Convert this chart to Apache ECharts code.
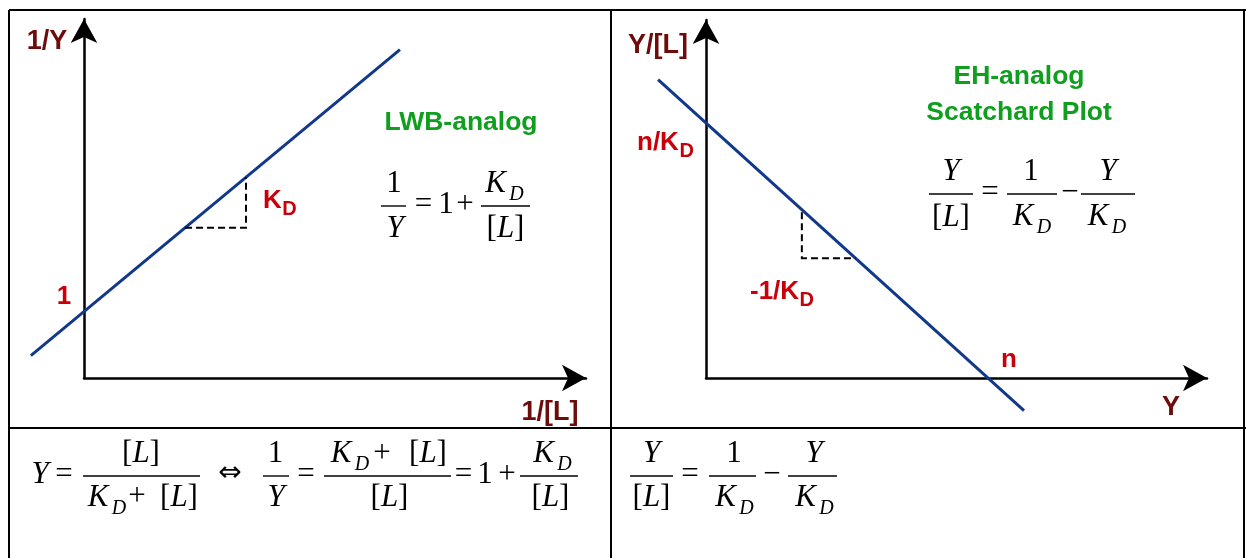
<!DOCTYPE html>
<html>
<head>
<meta charset="utf-8">
<script src="https://cdn.jsdelivr.net/npm/echarts@6/dist/echarts.min.js"></script>
<style>
  html, body { margin: 0; padding: 0; background: #fff; }
  #chart { width: 1246px; height: 558px; }
</style>
</head>
<body>
<div id="chart"></div>
<script>
// Lineweaver-Burk analog: 1/Y = 1 + K_D/[L]  (intercept 1, slope K_D)
const lwbLine = [[-0.663, 0.337], [3.94, 4.94]];
const lwbStep = [[1.26, 2.26], [2.02, 2.26], [2.02, 3.02]];
const lwbAxisMax = { x: 6.26, y: 5.40 };

// Scatchard (Eadie-Hofstee analog): Y/[L] = n/K_D - Y/K_D  (n = 1, K_D = 1)
const scatLine = [[-0.17, 1.17], [1.128, -0.128]];
const scatStep = [[0.34, 0.65], [0.34, 0.47], [0.53, 0.47]];
const scatAxisMax = { x: 1.777, y: 1.404 };

// Axis captions and annotations
const lwbTitle = 'LWB-analog';
const scatTitle = ['EH-analog', 'Scatchard Plot'];
const axisNames = { lwbY: '1/Y', lwbX: '1/[L]', scatY: 'Y/[L]', scatX: 'Y' };

const MAROON = '#6e0b0b';
const RED = '#c8000a';
const GREEN = '#0f9e1e';
const BLUE = '#12388a';
const SANS = "'Liberation Sans', Arial, sans-serif";
const SERIF = "'Liberation Serif', 'Times New Roman', 'DejaVu Serif', serif";
const F = 31, FS = 20;

const chart = echarts.init(document.getElementById('chart'), null, { renderer: 'canvas' });

function axisPair(gridIndex, max) {
  const line = {
    show: true,
    onZero: false,
    symbol: ['none', 'arrow'],
    symbolSize: [20, 24],
    lineStyle: { color: '#000', width: 2.5 }
  };
  const common = {
    type: 'value', gridIndex, min: 0,
    axisLine: line, axisTick: { show: false }, axisLabel: { show: false },
    splitLine: { show: false }
  };
  return [
    Object.assign({}, common, { max: max.x }),
    Object.assign({}, common, { max: max.y })
  ];
}

const lwbAxes = axisPair(0, lwbAxisMax);
const scatAxes = axisPair(1, scatAxisMax);

// ---------- text helpers ----------
function txt(x, y, s, font, fill, align) {
  return {
    type: 'text', x, y, silent: true,
    style: { text: s, font, fill: fill || '#000', align: align || 'center', verticalAlign: 'middle' }
  };
}
const rFont = `${F}px ${SERIF}`;
const iFont = `italic ${F}px ${SERIF}`;
const sFont = `italic ${FS}px ${SERIF}`;
const R = (x, y, s) => txt(x, y, s, rFont);
const I = (x, y, s) => txt(x, y, s, iFont);
function L(x, y) {
  return {
    type: 'text', x, y, silent: true,
    style: {
      text: '{r|[}{i|L}{r|]}', fill: '#000', align: 'center', verticalAlign: 'middle',
      rich: {
        r: { fontSize: F, fontFamily: SERIF },
        i: { fontSize: F, fontFamily: SERIF, fontStyle: 'italic' }
      }
    }
  };
}
function KD(x, y) {
  return [I(x, y, 'K'), txt(x + 21, y + 11, 'D', sFont)];
}
function bar(x1, x2, y) {
  return { type: 'line', silent: true, shape: { x1, y1: y, x2, y2: y }, style: { stroke: '#000', lineWidth: 1.4 } };
}

// label with subscript D (bold sans)
const measureCtx = document.createElement('canvas').getContext('2d');
function subLabel(left, y, main, sub, size, subSize, color) {
  const font = `bold ${size}px ${SANS}`;
  measureCtx.font = font;
  const w = measureCtx.measureText(main).width;
  return [
    txt(left, y, main, font, color, 'left'),
    txt(left + w + 0.5, y + 8, sub, `bold ${subSize}px ${SANS}`, color, 'left')
  ];
}

const boldSans = (size) => `bold ${size}px ${SANS}`;

// ---------- equations ----------
const eqTopLeft = [
  bar(381, 406, 206), R(394, 184, '1'), I(395, 229, 'Y'),
  R(423.5, 205, '='), R(446, 205, '1'), R(465, 205, '+'),
  bar(481, 530, 206), ...KD(495.5, 184), L(505.5, 229)
];
const eqTopRight = [
  bar(929, 973, 194), I(951, 172, 'Y'), L(951, 218),
  R(990, 193, '='),
  bar(1007, 1057, 194), R(1031, 172, '1'), ...KD(1023, 217),
  R(1070, 193, '\u2212'),
  bar(1081, 1135, 194), I(1108, 172, 'Y'), ...KD(1098, 217)
];
const eqBottomLeft = [
  I(40, 475, 'Y'), R(64, 475, '='),
  bar(83, 200, 476), L(141, 454), ...KD(98, 498), R(137, 497, '+'), L(179, 498),
  txt(230, 474, '\u21D4', `28px 'DejaVu Sans', sans-serif`),
  bar(263, 289, 476), R(275.5, 454, '1'), I(276, 498, 'Y'),
  R(306, 475, '='),
  bar(324, 451, 476), ...KD(341, 454), R(382, 454, '+'), L(428, 454), L(389.5, 498),
  R(463.5, 475, '='), R(485, 475, '1'), R(507, 475, '+'),
  bar(520, 578, 476), ...KD(543.5, 454), L(550.5, 498)
];
const eqBottomRight = [
  bar(630, 673, 476), I(651.5, 454, 'Y'), L(651.5, 498),
  R(690, 475, '='),
  bar(709, 756, 476), R(734, 454, '1'), ...KD(725.5, 498),
  R(772, 475, '\u2212'),
  bar(788, 837, 476), I(814, 454, 'Y'), ...KD(805.5, 498)
];

// ---------- table frame ----------
function rule(x1, y1, x2, y2) {
  return { type: 'line', silent: true, shape: { x1, y1, x2, y2 }, style: { stroke: '#000', lineWidth: 2 } };
}
const frame = [
  rule(9, 10, 1246, 10),
  rule(9, 10, 9, 558),
  rule(611, 10, 611, 558),
  rule(9, 428, 1246, 428),
  rule(1244, 10, 1244, 558)
];

// ---------- annotations ----------
const annotations = [
  txt(47, 42, axisNames.lwbY, boldSans(27), MAROON),
  txt(550, 413, axisNames.lwbX, boldSans(27), MAROON),
  txt(658, 46, axisNames.scatY, boldSans(27), MAROON),
  txt(1171, 408, axisNames.scatX, boldSans(27), MAROON),
  txt(461, 123, lwbTitle, boldSans(26.5), GREEN),
  txt(1019, 77, scatTitle[0], boldSans(26.5), GREEN),
  txt(1019, 113, scatTitle[1], boldSans(26.5), GREEN),
  txt(64, 297, '1', boldSans(26), RED),
  ...subLabel(263, 201, 'K', 'D', 26, 20, RED),
  ...subLabel(637, 143, 'n/K', 'D', 26, 20, RED),
  ...subLabel(750, 292, '-1/K', 'D', 26, 20, RED),
  txt(1009, 360, 'n', boldSans(26), RED)
];

// Polyline through the points of one array, placed with the grid's own axes
function pathSeries(name, gi, points, style) {
  return {
    name, type: 'custom', coordinateSystem: 'cartesian2d',
    xAxisIndex: gi, yAxisIndex: gi, data: points, clip: false, silent: true, z: 3,
    renderItem(params, api) {
      if (params.dataIndexInside !== 0) return null;
      return {
        type: 'polyline',
        shape: { points: points.map(p => api.coord(p)) },
        style: Object.assign({ fill: null, lineCap: 'butt' }, style)
      };
    }
  };
}

chart.setOption({
  backgroundColor: '#fff',
  animation: false,
  grid: [
    { left: 84, top: 19, width: 502, height: 359 },
    { left: 706, top: 20, width: 501, height: 358 }
  ],
  xAxis: [lwbAxes[0], scatAxes[0]],
  yAxis: [lwbAxes[1], scatAxes[1]],
  series: [
    pathSeries('LWB line', 0, lwbLine, { stroke: BLUE, lineWidth: 3 }),
    pathSeries('LWB slope', 0, lwbStep, { stroke: '#000', lineWidth: 2, lineDash: [7, 4] }),
    pathSeries('Scatchard line', 1, scatLine, { stroke: BLUE, lineWidth: 3 }),
    pathSeries('Scatchard slope', 1, scatStep, { stroke: '#000', lineWidth: 2, lineDash: [7, 4] })
  ],
  graphic: [...frame, ...annotations, ...eqTopLeft, ...eqTopRight, ...eqBottomLeft, ...eqBottomRight]
});
</script>
</body>
</html>
